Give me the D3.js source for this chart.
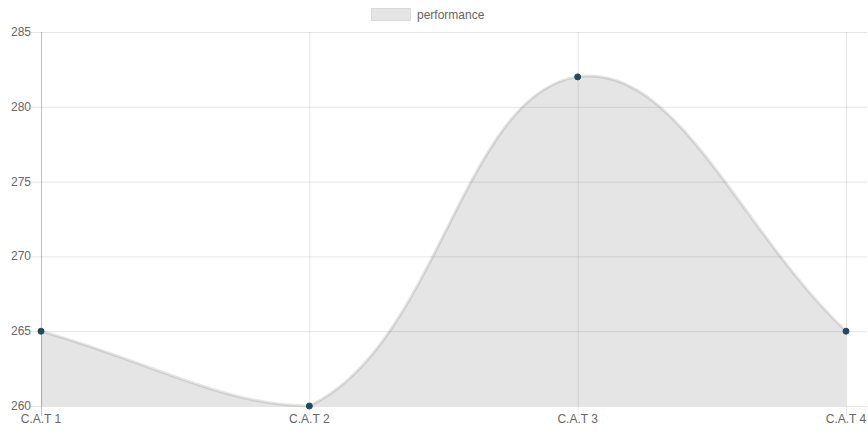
<!DOCTYPE html>
<html><head><meta charset="utf-8">
<script src="https://cdn.jsdelivr.net/npm/d3@7"></script>
<style>body{margin:0;background:#fff}svg{display:block}</style>
</head><body>
<svg id="c" width="868" height="434"></svg>
<script>
const categories = ["C.A.T 1", "C.A.T 2", "C.A.T 3", "C.A.T 4"];
const performance = [265, 260, 282, 265];
const yTicks = [260, 265, 270, 275, 280, 285];
const seriesName = "performance";

const W = 868, H = 434;
const area = {left: 41, right: 846, top: 32, bottom: 406};
const svg = d3.select("#c");
const font = "Helvetica Neue, Helvetica, Arial, sans-serif";

const x = d3.scalePoint().domain(categories).range([area.left, area.right]);
const y = d3.scaleLinear().domain([260, 285]).range([area.bottom, area.top]);

// horizontal grid
const gy = svg.append("g");
yTicks.forEach(t => {
  gy.append("line").attr("x1", area.left - 10).attr("x2", 867)
    .attr("y1", y(t) + 0.5).attr("y2", y(t) + 0.5)
    .attr("stroke", "rgba(0,0,0,0.1)").attr("stroke-width", 1);
  gy.append("text").attr("x", area.left - 10).attr("y", y(t))
    .attr("text-anchor", "end").attr("dominant-baseline", "central")
    .attr("font-family", font).attr("font-size", 12).attr("fill", "#666").text(t);
});
// vertical grid
categories.forEach((c, i) => {
  svg.append("line").attr("x1", x(c) + 0.5).attr("x2", x(c) + 0.5)
    .attr("y1", area.top).attr("y2", area.bottom + 10)
    .attr("stroke", i === 0 ? "rgba(0,0,0,0.25)" : "rgba(0,0,0,0.1)").attr("stroke-width", 1);
  svg.append("text").attr("x", x(c)).attr("y", area.bottom + 13)
    .attr("text-anchor", "middle").attr("dominant-baseline", "central")
    .attr("font-family", font).attr("font-size", 12).attr("fill", "#666").text(c);
});

// Chart.js style bezier control points
const pts = categories.map((c, i) => ({x: x(c), y: y(performance[i])}));
const tension = 0.4;
pts.forEach((p, i) => {
  const prev = pts[Math.max(0, i - 1)], next = pts[Math.min(pts.length - 1, i + 1)];
  const d01 = Math.hypot(p.x - prev.x, p.y - prev.y);
  const d12 = Math.hypot(next.x - p.x, next.y - p.y);
  let s01 = d01 / (d01 + d12), s12 = d12 / (d01 + d12);
  if (isNaN(s01)) s01 = 0; if (isNaN(s12)) s12 = 0;
  const fa = tension * s01, fb = tension * s12;
  p.cpx0 = p.x - fa * (next.x - prev.x); p.cpy0 = p.y - fa * (next.y - prev.y);
  p.cpx1 = p.x + fb * (next.x - prev.x); p.cpy1 = p.y + fb * (next.y - prev.y);
  const clampX = v => Math.max(area.left, Math.min(area.right, v));
  const clampY = v => Math.max(area.top, Math.min(area.bottom, v));
  p.cpx0 = clampX(p.cpx0); p.cpx1 = clampX(p.cpx1);
  p.cpy0 = clampY(p.cpy0); p.cpy1 = clampY(p.cpy1);
});
function curve(path) {
  path.moveTo(pts[0].x, pts[0].y);
  for (let i = 1; i < pts.length; i++) {
    const a = pts[i - 1], b = pts[i];
    path.bezierCurveTo(a.cpx1, a.cpy1, b.cpx0, b.cpy0, b.x, b.y);
  }
  return path;
}
const fillPath = curve(d3.path());
fillPath.lineTo(pts[pts.length - 1].x, area.bottom);
fillPath.lineTo(pts[0].x, area.bottom);
fillPath.closePath();
svg.append("path").attr("d", fillPath.toString()).attr("fill", "rgba(0,0,0,0.1)");
svg.append("path").attr("d", curve(d3.path()).toString()).attr("fill", "none")
  .attr("stroke", "rgba(0,0,0,0.1)").attr("stroke-width", 3);

svg.selectAll("circle.pt").data(pts).join("circle").attr("class", "pt")
  .attr("cx", d => d.x).attr("cy", d => d.y).attr("r", 3)
  .attr("fill", "#234a60").attr("stroke", "#234a60").attr("stroke-width", 1);

// legend
svg.append("rect").attr("x", 371.5).attr("y", 8.5).attr("width", 39).attr("height", 12)
  .attr("fill", "rgba(0,0,0,0.1)").attr("stroke", "rgba(0,0,0,0.1)").attr("stroke-width", 1);
svg.append("text").attr("x", 417).attr("y", 15).attr("dominant-baseline", "central")
  .attr("font-family", font).attr("font-size", 12).attr("fill", "#666").text(seriesName);
</script>
</body></html>
